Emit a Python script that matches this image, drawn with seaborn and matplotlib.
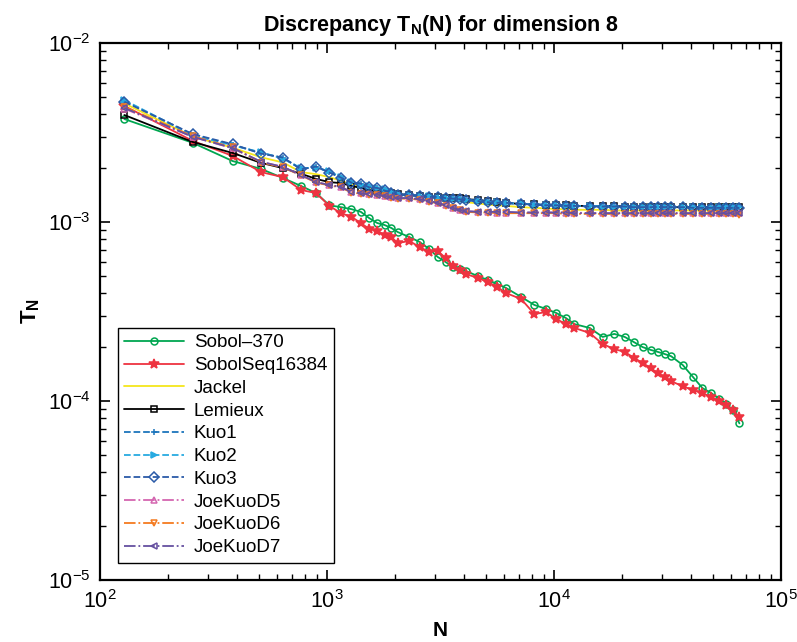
import numpy as np
import matplotlib
matplotlib.use("Agg")
import matplotlib.pyplot as plt
import seaborn as sns

# sample sizes (every 128 points at the low end, sparser further out)
n_points = [128, 256, 384, 512, 640, 768, 896, 1024, 1152, 1280, 1408, 1536, 1664, 1792, 1920, 2048,
            2304, 2560, 2816, 3072, 3328, 3584, 3840, 4096,
            4608, 5120, 5632, 6144, 7168, 8192, 9216, 10240, 11264, 12288, 14336, 16384,
            18432, 20480, 22528, 24576, 26624, 28672, 30720, 32768,
            36864, 40960, 45056, 49152, 53248, 57344, 61440, 65536]

# discrepancy values, in units of 1e-3
sobol_370 = [3.76, 2.77, 2.19, 1.98, 1.76, 1.59, 1.45, 1.24, 1.21, 1.18, 1.14, 1.05, 0.987, 0.962, 0.926, 0.879,
             0.824, 0.773, 0.707, 0.638, 0.598, 0.561, 0.546, 0.532,
             0.499, 0.474, 0.450, 0.428, 0.381, 0.344, 0.327, 0.310, 0.291, 0.269, 0.256, 0.228,
             0.237, 0.228, 0.213, 0.200, 0.193, 0.188, 0.183, 0.178,
             0.159, 0.136, 0.118, 0.111, 0.103, 0.096, 0.089, 0.075]
sobolseq_16384 = [4.45, 2.84, 2.34, 1.90, 1.78, 1.51, 1.45, 1.23, 1.12, 1.07, 0.987, 0.914, 0.891, 0.846, 0.824, 0.763,
                  0.783, 0.725, 0.680, 0.689, 0.630, 0.568, 0.539, 0.512,
                  0.487, 0.462, 0.433, 0.401, 0.371, 0.306, 0.314, 0.287, 0.269, 0.256, 0.240, 0.208,
                  0.195, 0.188, 0.174, 0.163, 0.153, 0.143, 0.136, 0.129,
                  0.121, 0.115, 0.111, 0.105, 0.100, 0.095, 0.089, 0.081]
jackel = [4.60, 3.00, 2.60, 2.30, 2.15, 1.90, 1.85, 1.78, 1.70, 1.62, 1.58, 1.53, 1.51, 1.48, 1.45, 1.42,
          1.41, 1.39, 1.37, 1.36, 1.35, 1.33, 1.31, 1.29,
          1.27, 1.25, 1.24, 1.23, 1.21, 1.20, 1.19, 1.18, 1.18, 1.17, 1.17, 1.17,
          1.16, 1.16, 1.16, 1.16, 1.16, 1.16, 1.16, 1.16,
          1.16, 1.16, 1.16, 1.16, 1.16, 1.16, 1.16, 1.16]
lemieux = [3.96, 2.80, 2.43, 2.14, 2.00, 1.86, 1.74, 1.67, 1.65, 1.59, 1.55, 1.51, 1.49, 1.47, 1.45, 1.43,
           1.42, 1.40, 1.38, 1.38, 1.36, 1.36, 1.36, 1.34,
           1.33, 1.31, 1.29, 1.28, 1.26, 1.26, 1.24, 1.24, 1.24, 1.23, 1.23, 1.23,
           1.23, 1.22, 1.22, 1.22, 1.22, 1.21, 1.21, 1.21,
           1.21, 1.21, 1.21, 1.21, 1.21, 1.21, 1.21, 1.21]
kuo1 = [4.74, 3.07, 2.70, 2.43, 2.28, 1.98, 2.03, 1.90, 1.76, 1.67, 1.63, 1.57, 1.55, 1.51, 1.47, 1.42,
        1.42, 1.40, 1.38, 1.38, 1.36, 1.36, 1.34, 1.33,
        1.31, 1.29, 1.29, 1.28, 1.26, 1.26, 1.24, 1.24, 1.24, 1.23, 1.23, 1.23,
        1.23, 1.22, 1.22, 1.22, 1.22, 1.22, 1.21, 1.21,
        1.21, 1.21, 1.21, 1.21, 1.21, 1.21, 1.21, 1.21]
kuo2 = [4.80, 3.05, 2.68, 2.45, 2.26, 2.00, 2.01, 1.92, 1.78, 1.68, 1.62, 1.58, 1.54, 1.52, 1.48, 1.43,
        1.41, 1.40, 1.39, 1.37, 1.37, 1.35, 1.34, 1.33,
        1.31, 1.30, 1.29, 1.27, 1.27, 1.25, 1.25, 1.24, 1.23, 1.23, 1.23, 1.22,
        1.22, 1.22, 1.22, 1.21, 1.21, 1.21, 1.21, 1.21,
        1.21, 1.21, 1.21, 1.20, 1.21, 1.21, 1.21, 1.22]
kuo3 = [4.70, 3.10, 2.72, 2.41, 2.29, 1.97, 2.04, 1.89, 1.77, 1.66, 1.64, 1.56, 1.55, 1.50, 1.46, 1.42,
        1.42, 1.39, 1.38, 1.38, 1.36, 1.35, 1.34, 1.32,
        1.31, 1.29, 1.28, 1.28, 1.26, 1.25, 1.24, 1.24, 1.23, 1.23, 1.22, 1.22,
        1.22, 1.22, 1.21, 1.21, 1.21, 1.21, 1.21, 1.21,
        1.21, 1.20, 1.20, 1.20, 1.20, 1.20, 1.20, 1.20]
joekuo_d5 = [4.30, 2.99, 2.58, 2.17, 2.03, 1.83, 1.67, 1.61, 1.57, 1.47, 1.45, 1.43, 1.42, 1.40, 1.38, 1.36,
             1.36, 1.34, 1.31, 1.28, 1.24, 1.20, 1.17, 1.15,
             1.14, 1.14, 1.13, 1.13, 1.13, 1.13, 1.13, 1.13, 1.13, 1.13, 1.12, 1.12,
             1.12, 1.12, 1.12, 1.12, 1.12, 1.12, 1.12, 1.12,
             1.12, 1.12, 1.12, 1.12, 1.12, 1.12, 1.12, 1.12]
joekuo_d6 = [4.40, 3.02, 2.61, 2.15, 2.02, 1.82, 1.66, 1.60, 1.56, 1.46, 1.44, 1.42, 1.41, 1.39, 1.37, 1.35,
             1.35, 1.33, 1.30, 1.27, 1.23, 1.19, 1.16, 1.14,
             1.13, 1.13, 1.12, 1.12, 1.12, 1.12, 1.12, 1.12, 1.11, 1.11, 1.11, 1.11,
             1.11, 1.11, 1.11, 1.11, 1.11, 1.11, 1.11, 1.11,
             1.11, 1.11, 1.11, 1.11, 1.11, 1.11, 1.11, 1.10]
joekuo_d7 = [4.34, 2.99, 2.59, 2.17, 2.03, 1.83, 1.67, 1.61, 1.57, 1.47, 1.45, 1.43, 1.42, 1.40, 1.38, 1.36,
             1.36, 1.34, 1.31, 1.28, 1.24, 1.20, 1.17, 1.15,
             1.14, 1.14, 1.14, 1.14, 1.13, 1.13, 1.13, 1.13, 1.13, 1.12, 1.12, 1.12,
             1.12, 1.12, 1.12, 1.12, 1.12, 1.12, 1.12, 1.12,
             1.12, 1.12, 1.12, 1.12, 1.12, 1.12, 1.12, 1.12]

series_names = ["Sobol\u2013370", "SobolSeq16384", "Jackel", "Lemieux", "Kuo1", "Kuo2", "Kuo3",
                "JoeKuoD5", "JoeKuoD6", "JoeKuoD7"]
series_values = [sobol_370, sobolseq_16384, jackel, lemieux, kuo1, kuo2, kuo3,
                 joekuo_d5, joekuo_d6, joekuo_d7]

# (color, marker, linestyle, hollow marker)
styles = [
    ("#00A650", "o", "-", True),
    ("#EE3340", "*", "-", False),
    ("#F5E61B", "", "-", False),
    ("#000000", "s", "-", True),
    ("#1C75BC", "+", "--", False),
    ("#27AAE1", ">", "--", False),
    ("#2B5BA8", "D", "--", True),
    ("#D466B0", "^", "-.", True),
    ("#F47B20", "v", "-.", True),
    ("#6650A0", "<", "-.", True),
]

sns.set_style("white")
plt.rcParams["font.family"] = ["Liberation Sans", "DejaVu Sans"]
plt.rcParams["mathtext.fontset"] = "custom"
plt.rcParams["mathtext.rm"] = "Liberation Sans"
plt.rcParams["mathtext.it"] = "Liberation Sans:italic"
plt.rcParams["mathtext.bf"] = "Liberation Sans:bold"
plt.rcParams["text.color"] = "black"
plt.rcParams["axes.labelcolor"] = "black"

fig = plt.figure(figsize=(7.97, 6.42), dpi=100)
ax = fig.add_axes([0.1255, 0.0966, 0.8545, 0.8364])

n_arr = np.array(n_points)
for name, vals, (color, marker, ls, hollow) in zip(series_names, series_values, styles):
    sns.lineplot(x=n_arr, y=np.array(vals) * 1e-3, ax=ax, color=color, label=name,
                 marker=marker if marker else None, linestyle=ls, linewidth=1.3,
                 markersize=5 if marker != "*" else 7,
                 markerfacecolor="none" if hollow else color,
                 markeredgecolor=color, markeredgewidth=1.1,
                 errorbar=None, sort=False)

ax.set_xscale("log")
ax.set_yscale("log")
ax.set_xlim(1e2, 1e5)
ax.set_ylim(1e-5, 1e-2)

for sp in ax.spines.values():
    sp.set_color("black")
    sp.set_linewidth(1.6)
ax.tick_params(which="both", direction="in", top=True, right=True, bottom=True, left=True,
               labelsize=15.5, colors="black")
ax.tick_params(which="major", length=7, width=1.2, pad=7)
ax.tick_params(which="minor", length=4, width=1.0)

ax.set_title("Discrepancy $\\mathbf{T_N}$(N) for dimension 8", fontsize=15.5,
             fontweight="bold", pad=9, color="black")
ax.set_xlabel("N", fontsize=15, fontweight="bold", labelpad=6)
ax.set_ylabel("$\\mathbf{T_N}$", fontsize=16, fontweight="bold", labelpad=4)

leg = ax.legend(loc="lower left", bbox_to_anchor=(0.026, 0.032), fontsize=13.5,
                frameon=True, fancybox=False, edgecolor="black", framealpha=1,
                handlelength=3.2, labelspacing=0.3, borderpad=0.35,
                handletextpad=0.5, borderaxespad=0)
leg.get_frame().set_linewidth(1.0)
for t in leg.get_texts():
    t.set_color("black")

fig.savefig("out.png", dpi=100)
